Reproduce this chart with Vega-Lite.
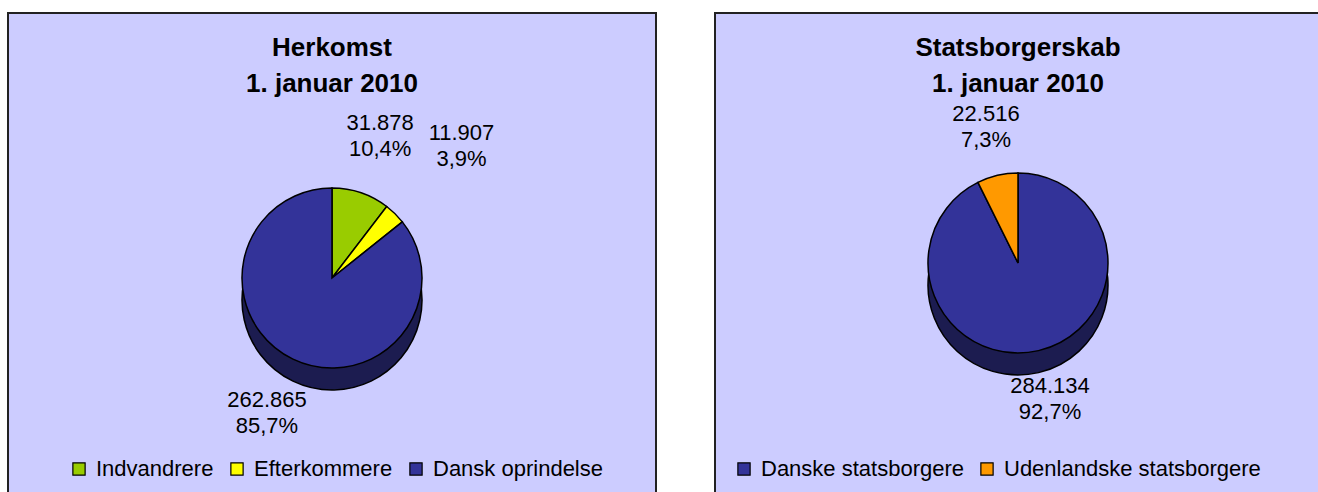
{
  "$schema": "https://vega.github.io/schema/vega-lite/v6.json",
  "padding": {"left": 7, "top": 12, "right": 0, "bottom": 0},
  "autosize": {"type": "pad"},
  "background": "white",
  "spacing": 57,
  "resolve": {"scale": {"color": "independent", "theta": "independent"}, "legend": {"color": "independent"}},
  "config": {
    "locale": {"number": {"decimal": ",", "thousands": ".", "grouping": [3], "currency": ["", " kr."]}},
    "font": "Liberation Sans",
    "view": {"fill": "#CCCCFF", "stroke": "#222222", "strokeWidth": 2},
    "title": {"font": "Liberation Sans", "fontSize": 26, "fontWeight": "bold", "color": "black", "anchor": "middle", "frame": "group", "lineHeight": 36},
    "legend": {"symbolType": "square", "symbolSize": 150, "symbolStrokeColor": "black", "symbolStrokeWidth": 1.2, "labelFont": "Liberation Sans", "labelFontSize": 22, "labelColor": "black", "labelOffset": 6, "columnPadding": 12, "labelLimit": 400},
    "text": {"font": "Liberation Sans", "fontSize": 22, "color": "black"}
  },
  "datasets": {
    "herkomst": [
      {"kategori": "Indvandrere", "antal": 31878, "andel": 0.104, "nr": 1},
      {"kategori": "Efterkommere", "antal": 11907, "andel": 0.039, "nr": 2},
      {"kategori": "Dansk oprindelse", "antal": 262865, "andel": 0.857, "nr": 3}
    ],
    "statsborgerskab": [
      {"kategori": "Danske statsborgere", "antal": 284134, "andel": 0.927, "nr": 1},
      {"kategori": "Udenlandske statsborgere", "antal": 22516, "andel": 0.073, "nr": 2}
    ]
  },
  "hconcat": [
    {
      "width": 648,
      "height": 490,
      "view": {"fill": "#CCCCFF", "stroke": "#222222", "strokeWidth": 2},
      "data": {"name": "herkomst"},
      "title": {"text": ["Herkomst", "1. januar 2010"], "offset": -84},
      "encoding": {
        "theta": {"field": "antal", "type": "quantitative", "stack": true},
        "order": {"field": "nr", "type": "quantitative"}
      },
      "layer": [
        {"mark": {"type": "arc", "outerRadius": 90, "fill": "#1C1C50", "stroke": "black", "strokeWidth": 1.5, "yOffset": 42}},
        {
          "mark": {"type": "arc", "outerRadius": 90, "stroke": "black", "strokeWidth": 1.5, "yOffset": 20},
          "encoding": {
            "color": {
              "field": "kategori", "type": "nominal",
              "scale": {"domain": ["Indvandrere", "Efterkommere", "Dansk oprindelse"], "range": ["#99CC00", "#FFFF00", "#333399"]},
              "legend": {"title": null, "orient": "none", "direction": "horizontal", "legendX": 60, "legendY": 445}
            }
          }
        },
        {"mark": {"type": "text", "radius": 150, "dy": -13, "yOffset": 20}, "encoding": {"text": {"field": "antal", "type": "quantitative", "format": ",.0f", "condition": {"test": "datum.nr == 2", "value": ""}}}},
        {"mark": {"type": "text", "radius": 150, "dy": 13, "yOffset": 20}, "encoding": {"text": {"field": "andel", "type": "quantitative", "format": ".1%", "condition": {"test": "datum.nr == 2", "value": ""}}}},
        {"mark": {"type": "text", "radius": 185, "dy": -13, "yOffset": 20}, "encoding": {"text": {"field": "antal", "type": "quantitative", "format": ",.0f", "condition": {"test": "datum.nr != 2", "value": ""}}}},
        {"mark": {"type": "text", "radius": 185, "dy": 13, "yOffset": 20}, "encoding": {"text": {"field": "andel", "type": "quantitative", "format": ".1%", "condition": {"test": "datum.nr != 2", "value": ""}}}}
      ]
    },
    {
      "width": 606,
      "height": 490,
      "view": {"fill": "#CCCCFF", "stroke": "#222222", "strokeWidth": 2},
      "data": {"name": "statsborgerskab"},
      "title": {"text": ["Statsborgerskab", "1. januar 2010"], "offset": -84},
      "encoding": {
        "theta": {"field": "antal", "type": "quantitative", "stack": true},
        "order": {"field": "nr", "type": "quantitative"}
      },
      "layer": [
        {"mark": {"type": "arc", "outerRadius": 90, "fill": "#1C1C50", "stroke": "black", "strokeWidth": 1.5, "yOffset": 27}},
        {
          "mark": {"type": "arc", "outerRadius": 90, "stroke": "black", "strokeWidth": 1.5, "yOffset": 5},
          "encoding": {
            "color": {
              "field": "kategori", "type": "nominal",
              "scale": {"domain": ["Danske statsborgere", "Udenlandske statsborgere"], "range": ["#333399", "#FF9900"]},
              "legend": {"title": null, "orient": "none", "direction": "horizontal", "legendX": 18, "legendY": 445}
            }
          }
        },
        {"mark": {"type": "text", "radius": 140, "dy": -13, "yOffset": 5}, "encoding": {"text": {"field": "antal", "type": "quantitative", "format": ",.0f"}}},
        {"mark": {"type": "text", "radius": 140, "dy": 13, "yOffset": 5}, "encoding": {"text": {"field": "andel", "type": "quantitative", "format": ".1%"}}}
      ]
    }
  ]
}
